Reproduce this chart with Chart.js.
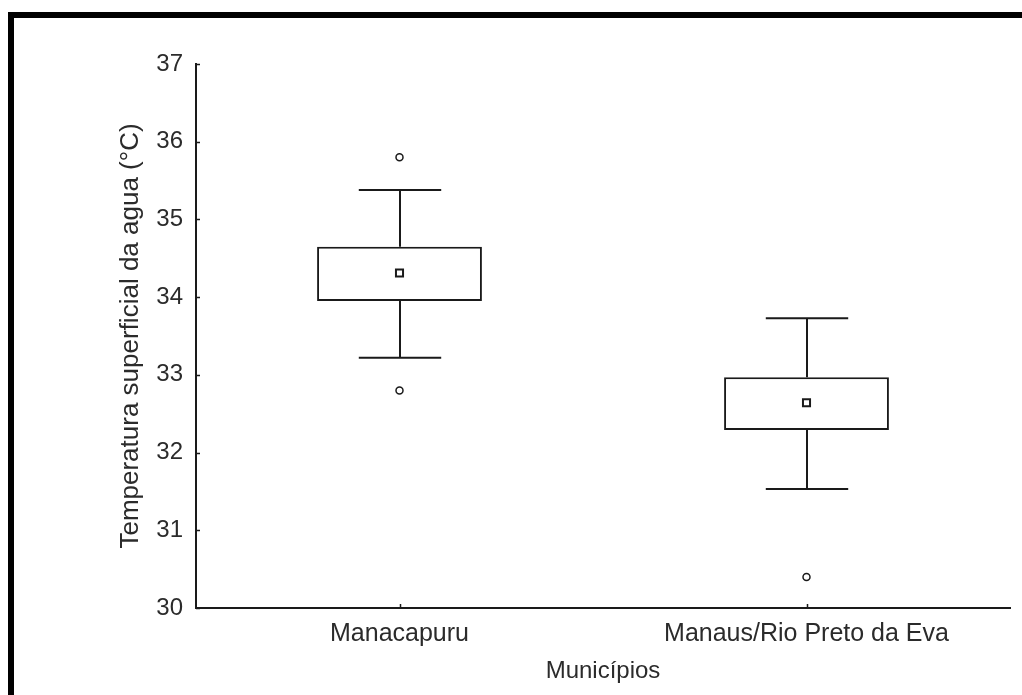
<!DOCTYPE html>
<html>
<head>
<meta charset="utf-8">
<script src="https://cdn.jsdelivr.net/npm/chart.js@4/dist/chart.umd.min.js"></script>
<style>
  html, body { margin: 0; padding: 0; background: #fff; }
  #wrap { position: relative; width: 1022px; height: 695px; }
  #grafico { position: absolute; left: 0; top: 0; }
  #marco {
    position: absolute; left: 8px; top: 12px; right: 0; bottom: 0;
    border-top: 6px solid #000; border-left: 6px solid #000;
    pointer-events: none;
  }
</style>
</head>
<body>
<div id="wrap">
  <canvas id="grafico" width="1022" height="695"></canvas>
  <div id="marco"></div>
</div>
<script>
// ================== DATOS ==================
const municipios = ["Manacapuru", "Manaus/Rio Preto da Eva"];
const cajaInferior = [33.95, 32.29];
const cajaSuperior = [34.65, 32.97];
const bigoteInferior = [33.22, 31.53];
const bigoteSuperior = [35.38, 33.73];
const medias = [34.31, 32.64];
const atipicosAltos = [35.80, null];
const atipicosBajos = [32.80, 30.40];

const COLOR_LINEA = "#1a1a1a";
const COLOR_TEXTO = "#2b2b2b";
const FUENTE = "'Liberation Sans', Arial, sans-serif";

// Bigotes y marcas interiores de los ejes
const pluginBigotes = {
    id: "bigotes",
    afterDatasetsDraw(chart) {
        const ctx = chart.ctx;
        const y = chart.scales.y;
        const x = chart.scales.x;
        const meta = chart.getDatasetMeta(0);

        ctx.save();
        ctx.strokeStyle = COLOR_LINEA;
        ctx.lineWidth = 2;

        meta.data.forEach((barra, i) => {
            const cx = Math.round(barra.x);
            const medio = barra.width / 4;
            const yTop = y.getPixelForValue(cajaSuperior[i]);
            const yBot = y.getPixelForValue(cajaInferior[i]);
            const yHi = y.getPixelForValue(bigoteSuperior[i]);
            const yLo = y.getPixelForValue(bigoteInferior[i]);

            ctx.beginPath();
            ctx.moveTo(cx, yTop); ctx.lineTo(cx, yHi);
            ctx.moveTo(cx - medio, yHi); ctx.lineTo(cx + medio, yHi);
            ctx.moveTo(cx, yBot); ctx.lineTo(cx, yLo);
            ctx.moveTo(cx - medio, yLo); ctx.lineTo(cx + medio, yLo);
            ctx.stroke();
        });

        // marcas hacia adentro
        ctx.lineWidth = 1.5;
        ctx.beginPath();
        y.ticks.forEach((t, i) => {
            const py = Math.round(y.getPixelForTick(i)) + 0.5;
            ctx.moveTo(chart.chartArea.left, py);
            ctx.lineTo(chart.chartArea.left + 4, py);
        });
        x.ticks.forEach((t, i) => {
            const px = Math.round(x.getPixelForTick(i)) + 0.5;
            ctx.moveTo(px, chart.chartArea.bottom);
            ctx.lineTo(px, chart.chartArea.bottom - 4);
        });
        ctx.stroke();
        ctx.restore();
    }
};

const ctx = document.getElementById("grafico");

new Chart(ctx, {
    type: "bar",
    data: {
        labels: municipios,
        datasets: [
            {
                label: "Caja",
                data: municipios.map((m, i) => [cajaInferior[i], cajaSuperior[i]]),
                backgroundColor: "#ffffff",
                borderColor: COLOR_LINEA,
                borderWidth: 2,
                borderSkipped: false,
                categoryPercentage: 1,
                barPercentage: 0.405,
                order: 2
            },
            {
                type: "line",
                label: "Media",
                data: medias,
                showLine: false,
                pointStyle: "rect",
                pointRadius: 5,
                pointBackgroundColor: "#ffffff",
                pointBorderColor: COLOR_LINEA,
                pointBorderWidth: 2,
                order: 0
            },
            {
                type: "line",
                label: "Atípicos altos",
                data: atipicosAltos,
                showLine: false,
                pointStyle: "circle",
                pointRadius: 3.5,
                pointBackgroundColor: "#ffffff",
                pointBorderColor: COLOR_LINEA,
                pointBorderWidth: 1.5,
                order: 0
            },
            {
                type: "line",
                label: "Atípicos bajos",
                data: atipicosBajos,
                showLine: false,
                pointStyle: "circle",
                pointRadius: 3.5,
                pointBackgroundColor: "#ffffff",
                pointBorderColor: COLOR_LINEA,
                pointBorderWidth: 1.5,
                order: 0
            }
        ]
    },
    options: {
        responsive: false,
        animation: false,
        layout: { padding: { top: 64, right: 12, left: 0, bottom: 0 } },
        plugins: {
            legend: { display: false },
            tooltip: { enabled: false }
        },
        scales: {
            x: {
                offset: true,
                grid: { display: false, drawTicks: false },
                border: { display: true, color: COLOR_LINEA, width: 2 },
                ticks: {
                    padding: 11,
                    color: COLOR_TEXTO,
                    font: { family: FUENTE, size: 25 }
                },
                title: {
                    display: true,
                    text: "Municípios",
                    color: COLOR_TEXTO,
                    font: { family: FUENTE, size: 24 },
                    padding: { top: 0, bottom: 9 }
                },
                afterFit: s => { s.height = 87; }
            },
            y: {
                min: 30,
                max: 37,
                grid: { display: false, drawTicks: false },
                border: { display: true, color: COLOR_LINEA, width: 2 },
                ticks: {
                    stepSize: 1,
                    padding: 13,
                    color: COLOR_TEXTO,
                    font: { family: FUENTE, size: 24 }
                },
                title: {
                    display: true,
                    text: "Temperatura superficial da agua (°C)",
                    color: COLOR_TEXTO,
                    font: { family: FUENTE, size: 26 },
                    padding: { top: 115, bottom: 0 }
                },
                afterFit: s => { s.width = 196; }
            }
        }
    },
    plugins: [pluginBigotes]
});
</script>
</body>
</html>
